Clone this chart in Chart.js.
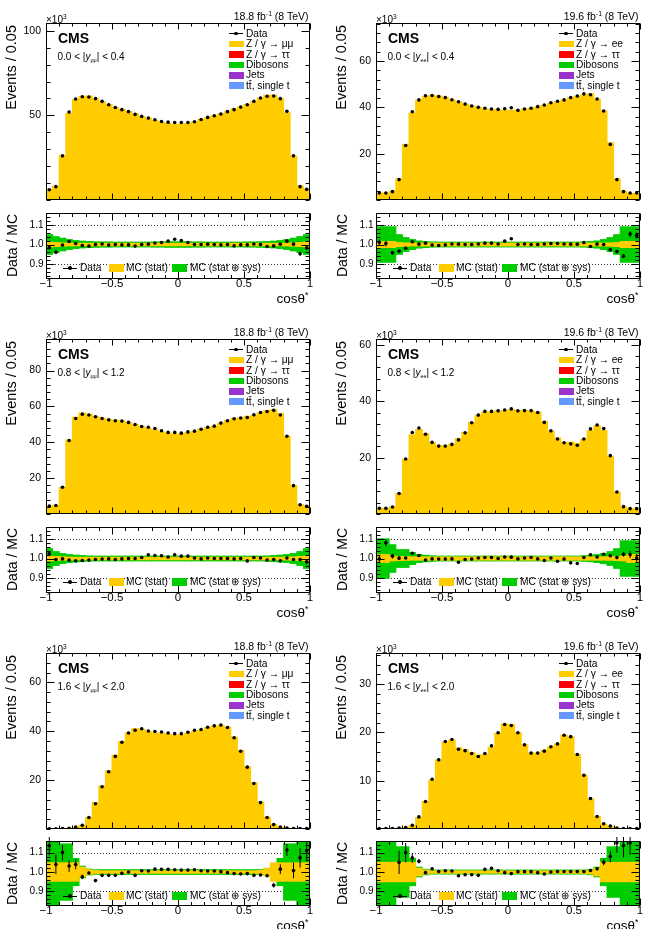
<!DOCTYPE html>
<html>
<head>
<meta charset="utf-8">
<script src="https://cdn.jsdelivr.net/npm/chart.js@4.4.0/dist/chart.umd.min.js"></script>
<style>
  body { margin: 0; background: #fff; }
  #page { position: relative; width: 649px; height: 929px; overflow: hidden; background: #fff;
          font-family: "Liberation Sans", Arial, Helvetica, sans-serif; color: #000; }
  #page canvas { position: absolute; }
  .t { position: absolute; white-space: nowrap; }
  .t sup, .t sub { font-size: 0.65em; line-height: 0; vertical-align: baseline; position: relative; }
  .t sup { top: -0.55em; }
  .t sub { font-size: 0.55em; top: 0.35em; }
  .sw { position: absolute; }
</style>
</head>
<body>
<div id="page"></div>
<script>
// cos(theta*) bins, 0.05 wide
const binCenters = [
  -0.975, -0.925, -0.875, -0.825, -0.775, -0.725, -0.675, -0.625, -0.575, -0.525,
  -0.475, -0.425, -0.375, -0.325, -0.275, -0.225, -0.175, -0.125, -0.075, -0.025,
  0.025, 0.075, 0.125, 0.175, 0.225, 0.275, 0.325, 0.375, 0.425, 0.475,
  0.525, 0.575, 0.625, 0.675, 0.725, 0.775, 0.825, 0.875, 0.925, 0.975
];
const xTickValues = [-1, -0.5, 0, 0.5, 1];
const ratioTickValues = [0.9, 1, 1.1];

// ---- mu mu, 0.0 < |y| < 0.4 (x10^3 events) ----
const dataMuMu04 = [6.1,7.9,26.1,52.0,59.7,61.0,60.9,59.9,58.3,56.3,
  54.7,53.4,52.2,50.6,49.4,48.4,47.4,46.4,46.0,45.8,
  45.8,45.8,46.2,47.6,48.8,49.8,50.8,52.2,53.4,54.9,
  56.3,58.3,60.3,61.3,61.5,59.9,52.4,26.1,7.9,6.3];
const mcMuMu04 = [6.2,8.2,26.2,51.2,59.4,61.3,61.4,59.9,58.1,56.5,
  54.7,53.5,52.3,51.0,49.4,48.3,47.0,45.9,45.2,44.6,
  44.9,45.3,46.2,47.6,48.7,49.8,50.9,52.2,53.8,55.0,
  56.4,58.1,60.3,61.9,61.9,59.8,51.5,26.0,8.3,6.4];
const ratioMuMu04 = [0.985,0.961,0.997,1.015,1.005,0.995,0.992,1.000,1.003,0.997,
  1.000,0.998,0.998,0.992,1.000,1.002,1.008,1.010,1.017,1.027,
  1.020,1.010,1.000,1.000,1.002,1.000,0.998,1.000,0.993,0.998,
  0.998,1.003,1.000,0.990,0.993,1.002,1.017,1.002,0.953,0.983];
const errMuMu04 = [0.012,0.010,0.006,0.004,0.004,0.004,0.004,0.004,0.004,0.004,
  0.004,0.004,0.004,0.004,0.004,0.004,0.004,0.004,0.004,0.004,
  0.004,0.004,0.004,0.004,0.004,0.004,0.004,0.004,0.004,0.004,
  0.004,0.004,0.004,0.004,0.004,0.004,0.004,0.006,0.010,0.012];
const statMuMu04 = [0.012,0.010,0.008,0.007,0.006,0.006,0.006,0.006,0.006,0.006,
  0.006,0.006,0.006,0.006,0.006,0.006,0.006,0.006,0.006,0.006,
  0.006,0.006,0.006,0.006,0.006,0.006,0.006,0.006,0.006,0.006,
  0.006,0.006,0.006,0.006,0.006,0.006,0.007,0.008,0.010,0.012];
const totMuMu04 = [0.050,0.040,0.032,0.025,0.020,0.017,0.015,0.014,0.013,0.013,
  0.012,0.012,0.012,0.012,0.012,0.012,0.013,0.013,0.014,0.014,
  0.014,0.014,0.013,0.013,0.012,0.012,0.012,0.012,0.012,0.012,
  0.013,0.013,0.014,0.015,0.017,0.020,0.025,0.032,0.040,0.050];

// ---- e e, 0.0 < |y| < 0.4 ----
const dataEE04 = [3.0,3.0,3.6,8.8,23.5,38.1,43.2,45.0,45.1,44.7,
  44.2,43.3,42.4,41.4,40.6,40.0,39.6,39.3,39.1,39.4,
  39.8,38.7,39.3,39.6,40.3,41.0,42.0,42.6,43.2,44.2,
  44.9,45.8,45.4,43.6,38.4,24.0,8.8,3.6,3.0,3.0];
const mcEE04 = [3.0,3.0,3.8,9.1,24.0,37.6,43.1,44.7,45.2,44.9,
  44.3,43.2,42.3,41.4,40.6,39.9,39.3,39.0,39.0,38.7,
  38.7,38.7,39.2,39.6,40.3,40.9,41.8,42.4,43.1,44.1,
  44.8,45.3,45.9,43.5,38.4,24.7,9.1,3.8,2.8,2.9];
const ratioEE04 = [1.010,1.005,0.958,0.966,0.981,1.014,1.002,1.007,0.997,0.995,
  0.998,1.003,1.002,1.000,1.000,1.003,1.007,1.007,1.003,1.017,
  1.029,1.000,1.003,1.000,1.000,1.003,1.005,1.005,1.003,1.002,
  1.002,1.010,0.990,1.002,1.000,0.973,0.964,0.941,1.053,1.046];
const errEE04 = [0.015,0.014,0.010,0.007,0.005,0.004,0.004,0.004,0.004,0.004,
  0.004,0.004,0.004,0.004,0.004,0.004,0.004,0.004,0.004,0.004,
  0.004,0.004,0.004,0.004,0.004,0.004,0.004,0.004,0.004,0.004,
  0.004,0.004,0.004,0.004,0.004,0.005,0.007,0.010,0.014,0.015];
const statEE04 = [0.015,0.015,0.015,0.010,0.008,0.007,0.007,0.007,0.007,0.007,
  0.007,0.007,0.007,0.007,0.007,0.007,0.007,0.007,0.007,0.007,
  0.007,0.007,0.007,0.007,0.007,0.007,0.007,0.007,0.007,0.007,
  0.007,0.007,0.007,0.007,0.007,0.008,0.010,0.015,0.015,0.015];
const totEE04 = [0.090,0.090,0.090,0.050,0.035,0.025,0.018,0.015,0.013,0.012,
  0.012,0.012,0.012,0.012,0.012,0.012,0.012,0.012,0.012,0.012,
  0.012,0.012,0.012,0.012,0.012,0.012,0.012,0.012,0.012,0.012,
  0.012,0.013,0.015,0.018,0.025,0.035,0.050,0.090,0.090,0.090];

// ---- mu mu, 0.8 < |y| < 1.2 ----
const dataMuMu12 = [4.5,4.7,14.9,41.0,53.3,55.7,55.2,54.2,53.3,52.5,
  52.0,51.8,51.1,49.9,48.8,48.4,47.7,46.4,45.5,45.5,
  45.1,45.8,46.2,47.3,48.4,49.0,50.7,52.0,53.1,53.5,
  53.8,55.3,56.6,57.2,57.8,55.2,43.4,15.8,5.2,4.3];
const mcMuMu12 = [4.4,4.7,14.9,41.3,53.9,56.3,55.6,54.5,53.5,52.6,
  52.3,51.9,51.1,49.9,48.6,47.5,47.0,45.8,45.1,44.7,
  44.6,45.3,46.1,47.4,48.3,49.0,50.7,52.0,53.2,53.5,
  54.5,55.0,56.4,57.7,58.1,55.9,43.3,15.9,5.2,4.4];
const ratioMuMu12 = [1.024,0.995,0.998,0.992,0.988,0.990,0.992,0.995,0.997,0.998,
  0.995,0.998,1.000,1.000,1.005,1.019,1.015,1.014,1.008,1.019,
  1.012,1.012,1.003,0.998,1.003,1.000,1.000,1.000,0.998,1.000,
  0.988,1.005,1.003,0.992,0.995,0.988,1.003,0.995,0.995,0.983];
const errMuMu12 = [0.012,0.008,0.005,0.004,0.004,0.004,0.004,0.004,0.004,0.004,
  0.004,0.004,0.004,0.004,0.004,0.004,0.004,0.004,0.004,0.004,
  0.004,0.004,0.004,0.004,0.004,0.004,0.004,0.004,0.004,0.004,
  0.004,0.004,0.004,0.004,0.004,0.004,0.004,0.005,0.008,0.012];
const statMuMu12 = [0.012,0.010,0.008,0.007,0.006,0.006,0.006,0.006,0.006,0.006,
  0.006,0.006,0.006,0.006,0.006,0.006,0.006,0.006,0.006,0.006,
  0.006,0.006,0.006,0.006,0.006,0.006,0.006,0.006,0.006,0.006,
  0.006,0.006,0.006,0.006,0.006,0.006,0.007,0.008,0.010,0.012];
const totMuMu12 = [0.050,0.035,0.025,0.020,0.017,0.015,0.013,0.012,0.012,0.012,
  0.012,0.012,0.012,0.012,0.012,0.012,0.012,0.012,0.012,0.012,
  0.012,0.012,0.012,0.012,0.012,0.012,0.012,0.012,0.012,0.012,
  0.012,0.012,0.012,0.013,0.015,0.017,0.020,0.025,0.035,0.050];

// ---- e e, 0.8 < |y| < 1.2 ----
const dataEE12 = [2.0,2.0,2.5,7.3,19.5,28.9,30.5,28.3,25.4,24.1,
  24.1,24.7,26.3,28.8,32.4,35.1,36.4,36.4,36.6,36.9,
  37.3,36.6,36.7,36.7,36.0,32.5,29.5,26.6,25.3,24.9,
  24.4,26.6,30.2,31.6,30.3,20.7,7.8,2.6,1.9,1.9];
const mcEE12 = [2.0,1.9,2.5,7.3,19.4,28.1,30.0,28.5,25.4,24.2,
  24.2,24.7,26.8,28.9,32.5,35.0,36.2,36.2,36.6,36.6,
  37.0,36.7,36.6,36.5,36.1,32.8,29.4,27.0,25.4,25.5,
  25.0,26.5,29.6,31.3,29.6,20.4,7.8,2.5,1.9,1.9];
const ratioEE12 = [0.998,1.080,1.012,1.002,1.003,1.027,1.015,0.992,0.998,0.997,
  0.997,0.998,0.981,0.995,0.997,1.003,1.005,1.005,1.000,1.008,
  1.007,0.998,1.003,1.005,0.998,0.990,1.003,0.986,0.997,0.978,
  0.975,1.005,1.019,1.008,1.022,1.014,1.005,1.022,1.020,1.003];
const errEE12 = [0.020,0.018,0.012,0.008,0.005,0.004,0.004,0.004,0.004,0.004,
  0.004,0.004,0.004,0.004,0.004,0.004,0.004,0.004,0.004,0.004,
  0.004,0.004,0.004,0.004,0.004,0.004,0.004,0.004,0.004,0.004,
  0.004,0.004,0.004,0.004,0.004,0.005,0.008,0.012,0.018,0.020];
const statEE12 = [0.020,0.020,0.012,0.010,0.009,0.008,0.008,0.008,0.008,0.008,
  0.008,0.008,0.008,0.008,0.008,0.008,0.008,0.008,0.008,0.008,
  0.008,0.008,0.008,0.008,0.008,0.008,0.008,0.008,0.008,0.008,
  0.008,0.008,0.008,0.008,0.008,0.009,0.010,0.012,0.020,0.020];
const totEE12 = [0.100,0.100,0.070,0.045,0.045,0.030,0.020,0.016,0.014,0.012,
  0.012,0.012,0.012,0.012,0.012,0.012,0.012,0.012,0.012,0.012,
  0.012,0.012,0.012,0.012,0.012,0.012,0.012,0.012,0.012,0.012,
  0.012,0.014,0.016,0.020,0.025,0.035,0.050,0.090,0.090,0.090];

// ---- mu mu, 1.6 < |y| < 2.0 ----
const dataMuMu20 = [0.1,0.1,0.2,0.3,0.8,1.5,4.7,10.3,17.3,23.4,
  29.7,35.5,39.3,40.4,41.0,40.1,39.9,39.7,39.3,39.0,
  39.0,39.6,40.4,40.7,41.6,42.2,42.5,41.5,37.3,31.8,
  25.3,18.6,10.8,4.7,1.8,0.8,0.4,0.2,0.2,0.2];
const mcMuMu20 = [0.1,0.1,0.2,0.3,0.8,1.5,4.7,10.8,17.6,23.8,
  30.2,35.8,39.3,41.1,40.7,39.9,39.3,39.2,38.8,38.5,
  38.6,39.2,39.9,40.4,41.4,42.0,42.4,41.6,37.6,32.1,
  25.5,18.9,11.0,4.8,1.9,0.8,0.4,0.2,0.2,0.2];
const ratioMuMu20 = [1.136,1.039,1.100,1.031,1.039,0.975,0.995,0.956,0.983,0.983,
  0.983,0.993,1.000,0.983,1.007,1.005,1.015,1.014,1.014,1.012,
  1.010,1.010,1.012,1.007,1.005,1.005,1.002,0.997,0.992,0.990,
  0.992,0.983,0.985,0.981,0.932,1.015,1.114,1.008,1.073,1.110];
const errMuMu20 = [0.050,0.050,0.040,0.030,0.025,0.012,0.007,0.005,0.004,0.004,
  0.004,0.004,0.004,0.004,0.004,0.004,0.004,0.004,0.004,0.004,
  0.004,0.004,0.004,0.004,0.004,0.004,0.004,0.004,0.004,0.004,
  0.004,0.004,0.005,0.007,0.012,0.025,0.030,0.040,0.050,0.050];
const statMuMu20 = [0.047,0.047,0.047,0.047,0.047,0.025,0.012,0.008,0.006,0.006,
  0.006,0.006,0.006,0.006,0.006,0.006,0.006,0.006,0.006,0.006,
  0.006,0.006,0.006,0.006,0.006,0.006,0.006,0.006,0.006,0.006,
  0.006,0.006,0.008,0.020,0.047,0.047,0.047,0.047,0.047,0.047];
const totMuMu20 = [0.250,0.250,0.145,0.145,0.070,0.030,0.015,0.012,0.012,0.012,
  0.012,0.012,0.012,0.012,0.012,0.012,0.012,0.012,0.012,0.012,
  0.012,0.012,0.012,0.012,0.012,0.012,0.012,0.012,0.012,0.012,
  0.012,0.012,0.012,0.015,0.030,0.070,0.145,0.145,0.250,0.250];

// ---- e e, 1.6 < |y| < 2.0 ----
const dataEE20 = [0.1,0.1,0.1,0.2,0.3,0.75,2.5,5.7,10.3,14.3,
  18.1,18.5,16.5,16.2,15.6,15.0,15.6,17.2,19.9,21.6,
  21.4,19.9,17.4,15.7,15.7,16.1,17.0,17.6,19.4,19.1,
  15.4,11.1,6.3,2.6,1.1,0.6,0.2,0.1,0.1,0.1];
const mcEE20 = [0.1,0.1,0.1,0.2,0.3,0.7,2.4,5.7,10.1,14.3,
  18.0,18.4,16.8,16.4,15.8,15.3,15.4,16.9,19.8,21.7,
  21.6,19.9,17.4,15.7,15.7,16.3,17.0,17.6,19.4,19.1,
  15.4,11.1,6.2,2.6,1.0,0.55,0.2,0.1,0.1,0.1];
const ratioEE20 = [null,null,null,1.050,1.100,1.073,1.056,0.997,1.017,1.003,
  1.007,1.005,0.981,0.986,0.986,0.983,1.014,1.019,1.007,0.997,
  0.992,1.002,1.002,1.002,0.997,0.990,1.000,1.003,1.003,1.003,
  1.003,1.003,1.008,1.017,1.050,1.080,1.150,1.136,1.150,null];
const errEE20 = [0,0,0,0.060,0.050,0.025,0.012,0.007,0.005,0.004,
  0.004,0.004,0.004,0.004,0.004,0.004,0.004,0.004,0.004,0.004,
  0.004,0.004,0.004,0.004,0.004,0.004,0.004,0.004,0.004,0.004,
  0.004,0.004,0.005,0.008,0.015,0.030,0.050,0.060,0.060,0];
const statEE20 = [0.050,0.050,0.050,0.050,0.050,0.050,0.020,0.010,0.006,0.006,
  0.006,0.006,0.006,0.006,0.006,0.006,0.006,0.006,0.006,0.006,
  0.006,0.006,0.006,0.006,0.006,0.006,0.006,0.006,0.006,0.006,
  0.006,0.006,0.010,0.020,0.050,0.050,0.050,0.050,0.050,0.050];
const totEE20 = [0.250,0.250,0.250,0.130,0.130,0.070,0.025,0.014,0.010,0.010,
  0.010,0.010,0.010,0.010,0.010,0.010,0.010,0.010,0.010,0.010,
  0.010,0.010,0.010,0.010,0.010,0.010,0.010,0.010,0.010,0.010,
  0.010,0.010,0.014,0.025,0.070,0.130,0.130,0.250,0.250,0.250];

// y-axis tick labels of the upper pads
const yTicksMuMu04 = [50, 100];
const yTicksEE04 = [20, 40, 60];
const yTicksMuMu12 = [20, 40, 60, 80];
const yTicksEE12 = [20, 40, 60];
const yTicksMuMu20 = [20, 40, 60];
const yTicksEE20 = [10, 20, 30];

const panels = [
  { row: 0, col: 0, data: dataMuMu04, mc: mcMuMu04, ratio: ratioMuMu04, err: errMuMu04, stat: statMuMu04, tot: totMuMu04,
    yMax: 104.6, yTicks: yTicksMuMu04, yMinor: 10, lumi: '18.8', ll: 'μμ', lo: '0.0', hi: '0.4' },
  { row: 0, col: 1, data: dataEE04, mc: mcEE04, ratio: ratioEE04, err: errEE04, stat: statEE04, tot: totEE04,
    yMax: 76.4, yTicks: yTicksEE04, yMinor: 4, lumi: '19.6', ll: 'ee', lo: '0.0', hi: '0.4' },
  { row: 1, col: 0, data: dataMuMu12, mc: mcMuMu12, ratio: ratioMuMu12, err: errMuMu12, stat: statMuMu12, tot: totMuMu12,
    yMax: 97.6, yTicks: yTicksMuMu12, yMinor: 4, lumi: '18.8', ll: 'μμ', lo: '0.8', hi: '1.2' },
  { row: 1, col: 1, data: dataEE12, mc: mcEE12, ratio: ratioEE12, err: errEE12, stat: statEE12, tot: totEE12,
    yMax: 62.1, yTicks: yTicksEE12, yMinor: 4, lumi: '19.6', ll: 'ee', lo: '0.8', hi: '1.2' },
  { row: 2, col: 0, data: dataMuMu20, mc: mcMuMu20, ratio: ratioMuMu20, err: errMuMu20, stat: statMuMu20, tot: totMuMu20,
    yMax: 72.0, yTicks: yTicksMuMu20, yMinor: 4, lumi: '18.8', ll: 'μμ', lo: '1.6', hi: '2.0' },
  { row: 2, col: 1, data: dataEE20, mc: mcEE20, ratio: ratioEE20, err: errEE20, stat: statEE20, tot: totEE20,
    yMax: 36.4, yTicks: yTicksEE20, yMinor: 2, lumi: '19.6', ll: 'ee', lo: '1.6', hi: '2.0' }
];

// page geometry (px)
const COL_X = [46, 376];
const PLOT_W = 264;
const MAIN_TOP = [23, 339, 653];
const MAIN_H = [177, 175, 176];
const RATIO_TOP = [213, 527, 841];
const RATIO_H = [66, 66, 65];
const AXIS_W = 44;

const YELLOW = '#FFCC00';
const GREEN = '#00CC00';
const FONT = '"Liberation Sans", Arial, Helvetica, sans-serif';
Chart.defaults.font.family = FONT;
Chart.defaults.color = '#000';

const page = document.getElementById('page');

function addText(html, x, base, size, opts = {}) {
  const d = document.createElement('div');
  d.className = 't';
  d.innerHTML = html;
  d.style.fontSize = size + 'px';
  d.style.lineHeight = size + 'px';
  d.style.left = x + 'px';
  d.style.top = (base - 0.8465 * size) + 'px';
  if (opts.bold) d.style.fontWeight = 'bold';
  if (opts.align === 'right') d.style.transform = 'translateX(-100%)';
  if (opts.align === 'center') d.style.transform = 'translateX(-50%)';
  page.appendChild(d);
}

// vertical title, its end (top) at topY, glyphs centred on cx
function addVText(text, cx, topY, size) {
  const d = document.createElement('div');
  d.className = 't';
  d.textContent = text;
  d.style.fontSize = size + 'px';
  d.style.lineHeight = size + 'px';
  d.style.left = (cx - 0.488 * size) + 'px';
  d.style.top = topY + 'px';
  d.style.transformOrigin = '0 0';
  d.style.transform = 'rotate(-90deg) translateX(-100%)';
  page.appendChild(d);
}

function addBox(x, y, w, h, color, round) {
  const d = document.createElement('div');
  d.className = 'sw';
  d.style.left = x + 'px'; d.style.top = y + 'px';
  d.style.width = w + 'px'; d.style.height = h + 'px';
  d.style.background = color;
  if (round) d.style.borderRadius = '50%';
  page.appendChild(d);
}

function dataMarker(x0, x1, cy) {
  addBox(x0, cy - 0.5, x1 - x0, 1, '#000');
  addBox((x0 + x1) / 2 - 1.8, cy - 1.8, 3.6, 3.6, '#000', true);
}

function makeCanvas(left, top, w, h) {
  const c = document.createElement('canvas');
  c.width = w; c.height = h;
  c.style.left = left + 'px'; c.style.top = top + 'px';
  c.style.width = w + 'px'; c.style.height = h + 'px';
  page.appendChild(c);
  return c;
}

// ROOT-like frame: box, inward ticks on all sides, dotted reference lines, error bars
const rootFrame = {
  id: 'rootFrame',
  beforeDatasetsDraw(chart, args, o) {
    if (!o.lines) return;
    const { ctx, chartArea: a } = chart;
    const y = chart.scales.y;
    ctx.save();
    ctx.strokeStyle = '#333';
    ctx.lineWidth = 1;
    ctx.setLineDash([1, 2]);
    o.lines.forEach(v => {
      const py = Math.round(y.getPixelForValue(v)) + 0.5;
      ctx.beginPath(); ctx.moveTo(a.left, py); ctx.lineTo(a.right, py); ctx.stroke();
    });
    ctx.restore();
  },
  afterDatasetsDraw(chart, args, o) {
    const { ctx, chartArea: a } = chart;
    const x = chart.scales.x, y = chart.scales.y;
    ctx.save();
    ctx.strokeStyle = '#000';
    ctx.lineWidth = 1;
    if (o.errors) {
      o.errors.values.forEach((v, i) => {
        if (v === null || !o.errors.err[i]) return;
        const px = x.getPixelForValue(binCenters[i]);
        ctx.beginPath();
        ctx.moveTo(px, y.getPixelForValue(v - o.errors.err[i]));
        ctx.lineTo(px, y.getPixelForValue(v + o.errors.err[i]));
        ctx.stroke();
      });
    }
    const L = Math.round(a.left) + 0.5, R = Math.round(a.right) - 0.5;
    const T = Math.round(a.top) + 0.5, B = Math.round(a.bottom) - 0.5;
    ctx.strokeRect(L, T, R - L, B - T);
    const steps = (min, max, step) => {
      const out = [];
      for (let k = Math.ceil(min / step - 1e-6); k * step <= max + 1e-6; k++) out.push(k * step);
      return out;
    };
    const isMajor = (list, v) => list.some(m => Math.abs(m - v) < 1e-6);
    steps(x.min, x.max, o.xMinor).forEach(v => {
      const len = isMajor(o.xMajor, v) ? o.xLen : o.xLen / 2;
      const px = Math.round(x.getPixelForValue(v)) + 0.5;
      ctx.beginPath();
      ctx.moveTo(px, B); ctx.lineTo(px, B - len);
      ctx.moveTo(px, T); ctx.lineTo(px, T + len);
      ctx.stroke();
    });
    steps(y.min, y.max, o.yMinor).forEach(v => {
      const len = isMajor(o.yMajor, v) ? o.yLen : o.yLen / 2;
      const py = Math.round(y.getPixelForValue(v)) + 0.5;
      ctx.beginPath();
      ctx.moveTo(L, py); ctx.lineTo(L + len, py);
      ctx.moveTo(R, py); ctx.lineTo(R - len, py);
      ctx.stroke();
    });
    ctx.restore();
  }
};

const fmtX = v => (v < 0 ? '\u2212' : '') + Math.abs(v);

panels.forEach(p => {
  const cx = COL_X[p.col];
  const mt = MAIN_TOP[p.row], mh = MAIN_H[p.row];
  const rt = RATIO_TOP[p.row], rh = RATIO_H[p.row];

  // upper pad
  new Chart(makeCanvas(cx - AXIS_W, mt - 4, AXIS_W + PLOT_W + 6, mh + 8), {
    type: 'bar',
    data: {
      datasets: [
        { type: 'line', data: binCenters.map((c, i) => ({ x: c, y: p.data[i] })), showLine: false,
          pointRadius: 1.8, pointBackgroundColor: '#000', pointBorderWidth: 0, order: 0 },
        { type: 'bar', data: binCenters.map((c, i) => ({ x: c, y: p.mc[i] })), backgroundColor: YELLOW,
          borderWidth: 0, barPercentage: 1, categoryPercentage: 1, inflateAmount: 0.5, order: 1 }
      ]
    },
    options: {
      responsive: false, animation: false, devicePixelRatio: 1, events: [],
      layout: { padding: { left: 0, right: 6, top: 4, bottom: 4 } },
      plugins: {
        legend: { display: false }, tooltip: { enabled: false },
        rootFrame: { xMajor: xTickValues, xMinor: 0.1, xLen: 6, yMajor: p.yTicks, yMinor: p.yMinor, yLen: 8 }
      },
      scales: {
        x: { type: 'linear', min: -1, max: 1, offset: false, display: false,
             afterFit(s) { s.height = 0; s.paddingLeft = 0; s.paddingRight = 0; } },
        y: { type: 'linear', min: 0, max: p.yMax,
             afterBuildTicks(s) { s.ticks = p.yTicks.map(v => ({ value: v })); },
             ticks: { font: { size: 10.5 }, color: '#000', padding: 5 },
             grid: { display: false, drawTicks: false }, border: { display: false },
             afterFit(s) { s.width = AXIS_W; s.paddingTop = 0; s.paddingBottom = 0; } }
      }
    },
    plugins: [rootFrame]
  });

  // ratio pad
  new Chart(makeCanvas(cx - AXIS_W, rt - 4, AXIS_W + PLOT_W + 6, rh + 4 + 16), {
    type: 'bar',
    data: {
      datasets: [
        { type: 'line', data: binCenters.map((c, i) => ({ x: c, y: p.ratio[i] })), showLine: false,
          pointRadius: 1.8, pointBackgroundColor: '#000', pointBorderWidth: 0, order: 0 },
        { type: 'bar', data: binCenters.map((c, i) => ({ x: c, y: [1 - p.stat[i], 1 + p.stat[i]] })),
          backgroundColor: YELLOW, borderWidth: 0, grouped: false, barPercentage: 1, categoryPercentage: 1,
          inflateAmount: 0.5, order: 1 },
        { type: 'bar', data: binCenters.map((c, i) => ({ x: c, y: [1 - p.tot[i], 1 + p.tot[i]] })),
          backgroundColor: GREEN, borderWidth: 0, grouped: false, barPercentage: 1, categoryPercentage: 1,
          inflateAmount: 0.5, order: 2 }
      ]
    },
    options: {
      responsive: false, animation: false, devicePixelRatio: 1, events: [],
      layout: { padding: { left: 0, right: 6, top: 4, bottom: 0 } },
      plugins: {
        legend: { display: false }, tooltip: { enabled: false },
        rootFrame: { xMajor: xTickValues, xMinor: 0.1, xLen: 7, yMajor: ratioTickValues, yMinor: 0.02, yLen: 8,
                     lines: ratioTickValues, errors: { values: p.ratio, err: p.err } }
      },
      scales: {
        x: { type: 'linear', min: -1, max: 1, offset: false,
             afterBuildTicks(s) { s.ticks = xTickValues.map(v => ({ value: v })); },
             ticks: { font: { size: 11.5 }, color: '#000', padding: -2, maxRotation: 0, autoSkip: false,
                      callback: v => fmtX(v) },
             grid: { display: false, drawTicks: false }, border: { display: false },
             afterFit(s) { s.height = 16; s.paddingLeft = 0; s.paddingRight = 0; } },
        y: { type: 'linear', min: 0.825, max: 1.16,
             afterBuildTicks(s) { s.ticks = ratioTickValues.map(v => ({ value: v })); },
             ticks: { font: { size: 10 }, color: '#000', padding: 2.5 },
             grid: { display: false, drawTicks: false }, border: { display: false },
             afterFit(s) { s.width = AXIS_W; s.paddingTop = 0; s.paddingBottom = 0; } }
      }
    },
    plugins: [rootFrame]
  });

  // texts of the upper pad
  addText('×10<sup>3</sup>', cx, mt + 0.3, 10);
  addText(p.lumi + ' fb<sup>-1</sup> (8 TeV)', cx + 262.5, mt - 3, 10.5, { align: 'right' });
  addText('CMS', cx + 12, mt + 19.7, 14, { bold: true });
  addText(p.lo + ' &lt; |<i>y</i><sub>' + p.ll + '</sub>| &lt; ' + p.hi, cx + 11.5, mt + 37.5, 10);
  addVText('Events / 0.05', cx - 35, mt + 2, 14.5);

  // legend of the upper pad
  const legend = [
    { label: 'Data' },
    { label: 'Z / γ → ' + p.ll, color: YELLOW },
    { label: 'Z / γ → ττ', color: '#FF0000' },
    { label: 'Dibosons', color: GREEN },
    { label: 'Jets', color: '#9933CC' },
    { label: 'tt\u0304, single t', color: '#6699FF' }
  ];
  legend.forEach((e, k) => {
    const cy = mt + 10.7 + 10.4 * k;
    if (e.color) addBox(cx + 182.5, cy - 3.4, 15, 6.8, e.color);
    else dataMarker(cx + 183, cx + 197, cy);
    addText(e.label, cx + 200, cy + 3.65, 10.2);
  });

  // ratio pad texts
  addVText('Data / MC', cx - 34.5, rt + 0.5, 14);
  const ly = rt + 55;
  dataMarker(cx + 17, cx + 31, ly);
  addText('Data', cx + 34, ly + 3.65, 10.2);
  addBox(cx + 63, ly - 3.6, 15, 7.2, YELLOW);
  addText('MC (stat)', cx + 80, ly + 3.65, 10.2);
  addBox(cx + 126, ly - 3.6, 15, 7.2, GREEN);
  addText('MC (stat ⊕ sys)', cx + 144, ly + 3.65, 10.2);
  addText('cosθ<sup>*</sup>', cx + 262.5, rt + rh + 24, 13.5, { align: 'right' });
});
</script>
</body>
</html>
